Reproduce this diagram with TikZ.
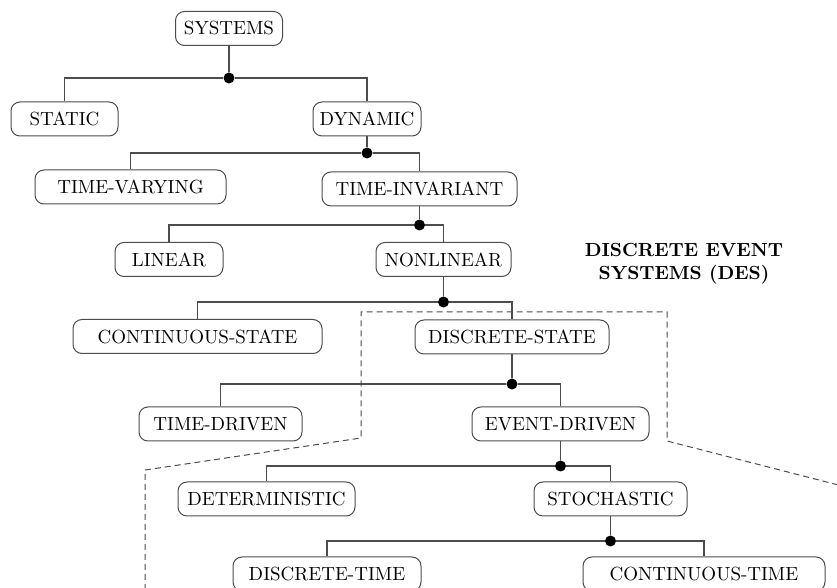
\documentclass[tikz,border=0pt]{standalone}
\usepackage{tikz}
\usetikzlibrary{positioning}

\begin{document}
\begin{tikzpicture}[x=0.5pt, y=-0.5pt,
    every node/.style={font=\fontsize{9.5}{11.5}\selectfont},
    box/.style={draw=black!70, line width=0.5pt, rounded corners=4.5pt, minimum height=17pt, inner sep=0pt},
    dot/.style={circle, fill=black, inner sep=0pt, minimum size=5.5pt},
    link/.style={draw=black!70, line width=0.6pt},
    region/.style={draw=black!70, line width=0.5pt, dash pattern=on 3pt off 2pt}]
        \useasboundingbox (0,0) rectangle (837,588);

        % the classes
        \node[box, minimum width=53.5pt] (systems) at (229,28.5) {SYSTEMS};
        \node[box, minimum width=53.5pt] (static) at (64.5,119) {STATIC};
        \node[box, minimum width=54pt] (dynamic) at (367,119) {DYNAMIC};
        \node[box, minimum width=95.5pt] (tvar) at (130.5,187) {TIME-VARYING};
        \node[box, minimum width=97.5pt] (tinv) at (419.5,189) {TIME-INVARIANT};
        \node[box, minimum width=54pt] (linear) at (169,259.5) {LINEAR};
        \node[box, minimum width=67.5pt] (nonlinear) at (443.5,259.5) {NONLINEAR};
        \node[box, minimum width=124.5pt] (cstate) at (197.5,336.5) {CONTINUOUS-STATE};
        \node[box, minimum width=97pt] (dstate) at (512,337) {DISCRETE-STATE};
        \node[box, minimum width=81.5pt] (tdriven) at (220.5,424) {TIME-DRIVEN};
        \node[box, minimum width=88.5pt] (edriven) at (560.5,424) {EVENT-DRIVEN};
        \node[box, minimum width=88.5pt] (determ) at (266.5,499) {DETERMINISTIC};
        \node[box, minimum width=76.5pt] (stoch) at (610.5,499) {STOCHASTIC};
        \node[box, minimum width=94pt] (dtime) at (327,574) {DISCRETE-TIME};
        \node[box, minimum width=121pt] (ctime) at (704,574) {CONTINUOUS-TIME};

        % the branch points
        \node[dot] (j1) at (systems |- 0,78) {};
        \node[dot] (j2) at (dynamic |- 0,153) {};
        \node[dot] (j3) at (tinv |- 0,225) {};
        \node[dot] (j4) at (nonlinear |- 0,302) {};
        \node[dot] (j5) at (dstate |- 0,384) {};
        \node[dot] (j6) at (edriven |- 0,466) {};
        \node[dot] (j7) at (stoch |- 0,541) {};

        \draw[link] (systems) -- (j1);
        \draw[link] (static) |- (j1) -| (dynamic);
        \draw[link] (dynamic) -- (j2);
        \draw[link] (tvar) |- (j2) -| (tinv);
        \draw[link] (tinv) -- (j3);
        \draw[link] (linear) |- (j3) -| (nonlinear);
        \draw[link] (nonlinear) -- (j4);
        \draw[link] (cstate) |- (j4) -| (dstate);
        \draw[link] (dstate) -- (j5);
        \draw[link] (tdriven) |- (j5) -| (edriven);
        \draw[link] (edriven) -- (j6);
        \draw[link] (determ) |- (j6) -| (stoch);
        \draw[link] (stoch) -- (j7);
        \draw[link] (dtime) |- (j7) -| (ctime);

        % the DES part
        \draw[region] (145,600) -- (145,470) -- (361,438) -- (361,312) -- (667,312) -- (667,441) -- (850,488);
        \node[align=center, font=\fontsize{9.5}{11.5}\selectfont\bfseries] (des) at (684,264) {DISCRETE EVENT\\SYSTEMS (DES)};
    \end{tikzpicture}
\end{document}
